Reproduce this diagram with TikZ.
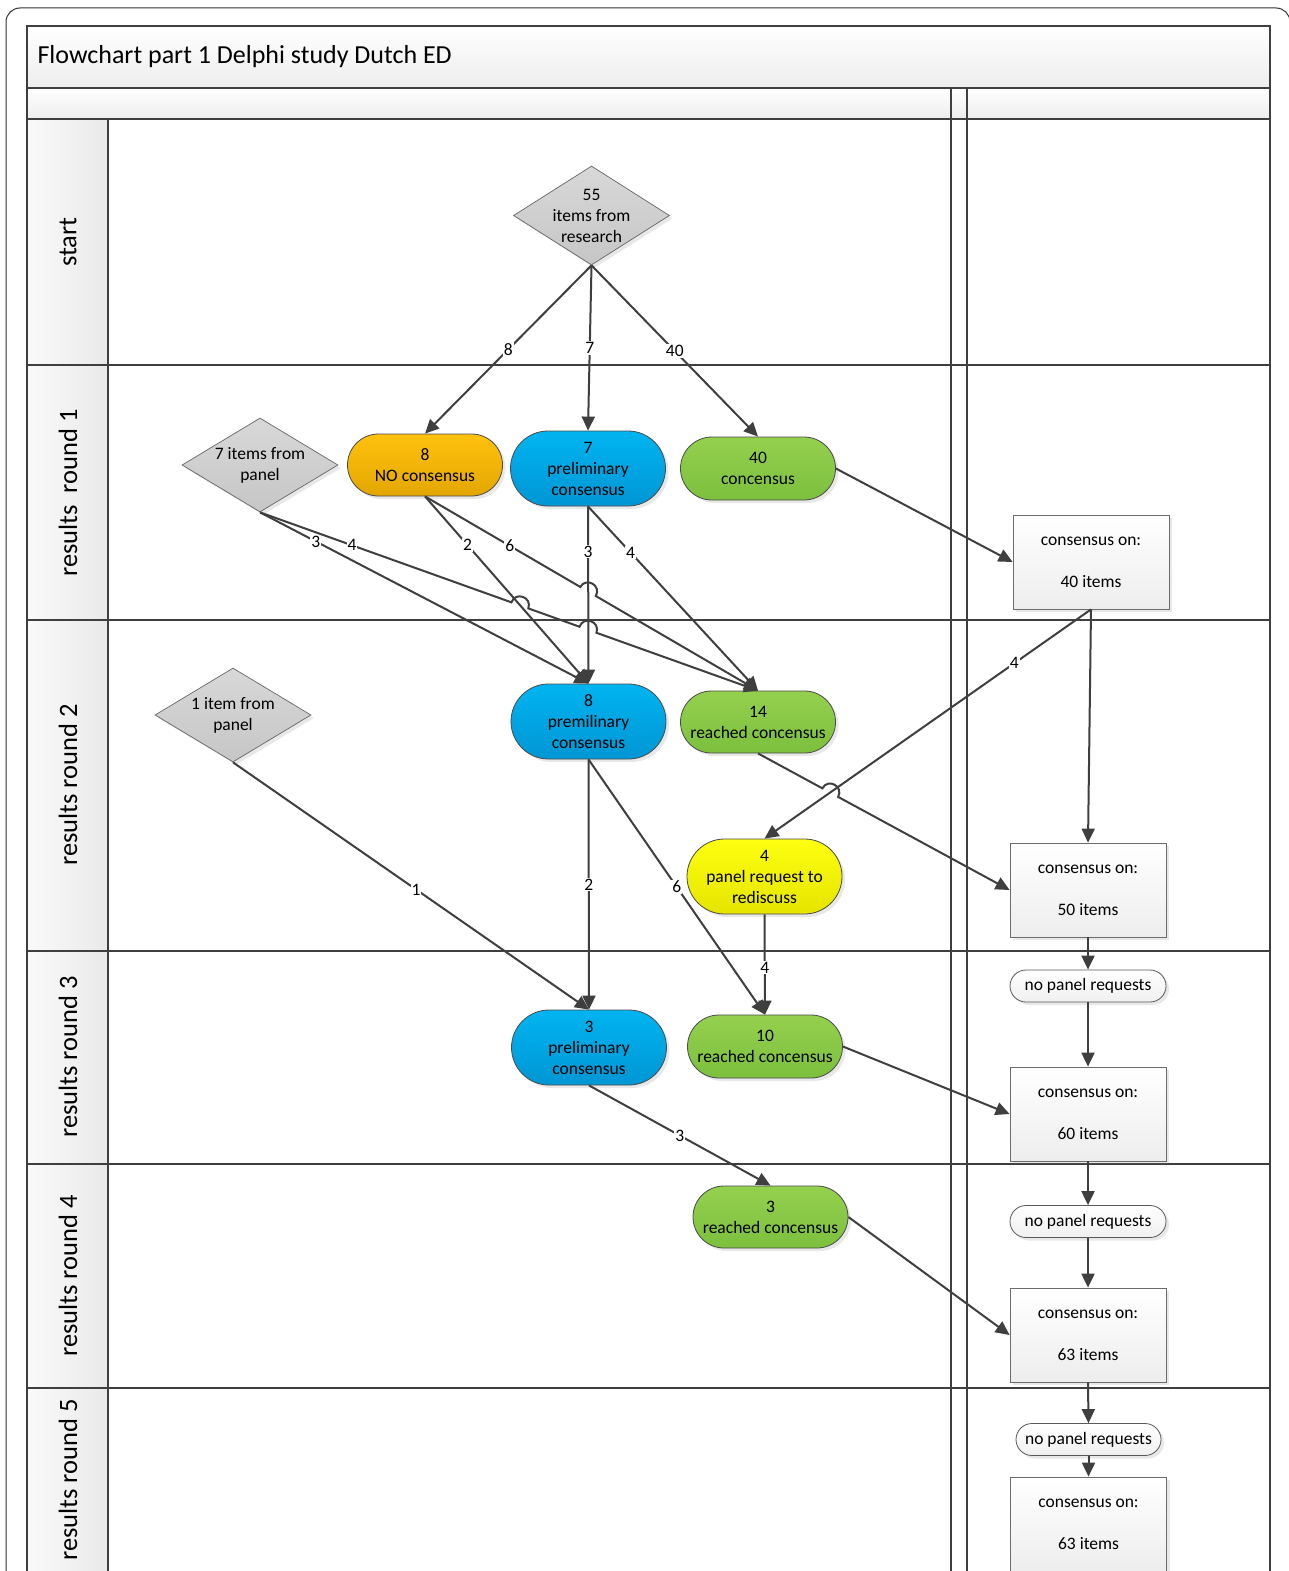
\documentclass[tikz,border=0pt]{standalone}
\usepackage{fontspec}
\setmainfont{Carlito}
\usetikzlibrary{shapes.geometric,arrows.meta,calc,shadows}
\definecolor{linec}{HTML}{3F3F3F}
\definecolor{bordc}{HTML}{4A4A4A}
\definecolor{orgT}{HTML}{FFC20E}
\definecolor{orgB}{HTML}{E3A600}
\definecolor{bluT}{HTML}{00B4F0}
\definecolor{bluB}{HTML}{0096D4}
\definecolor{grnT}{HTML}{94D04E}
\definecolor{grnB}{HTML}{7CC03E}
\definecolor{yelT}{HTML}{FFFF10}
\definecolor{yelB}{HTML}{E4E400}
\definecolor{dmdT}{HTML}{D8D8D8}
\definecolor{dmdB}{HTML}{C6C6C6}
\begin{document}
\begin{tikzpicture}[x=1pt,y=-1pt,
  lane/.style={draw=linec,line width=2pt},
  line/.style={draw=linec,line width=2pt},
  arr/.style={line,-{Triangle[length=14pt,width=13pt]}},
  lab/.style={fill=white,inner sep=1pt,font=\fontsize{17.5}{20}\selectfont,text=black},
  shad/.style={drop shadow={opacity=0.18,shadow xshift=3pt,shadow yshift=-3pt}},
  term/.style={rectangle,rounded corners=#1,minimum height=2*#1,minimum width=155pt,
     draw=bordc,line width=0.8pt,align=center,inner sep=0pt,
     font=\fontsize{17.5}{21}\selectfont,shad},
  orng/.style={top color=orgT,bottom color=orgB},
  blu/.style={top color=bluT,bottom color=bluB},
  grn/.style={top color=grnT,bottom color=grnB},
  yel/.style={top color=yelT,bottom color=yelB},
  dmd/.style={diamond,minimum width=156pt,minimum height=#1,inner sep=0pt,
     draw=gray!80!black,line width=0.7pt,top color=dmdT,bottom color=dmdB,shad},
  dtext/.style={align=center,font=\fontsize{17.5}{21}\selectfont},
  cbox/.style={rectangle,minimum width=156pt,minimum height=94pt,draw=gray!85!black,
     line width=0.8pt,top color=white,bottom color=gray!14,align=center,
     font=\fontsize{17.5}{21}\selectfont,shad},
  npr/.style={rectangle,rounded corners=16pt,minimum height=32pt,minimum width=#1,
     draw=gray!70!black,line width=0.8pt,top color=white,bottom color=gray!12,
     font=\fontsize{17.5}{21}\selectfont,shad},
  lanelab/.style={rotate=90,font=\fontsize{26.5}{30}\selectfont},
  hdr/.style={top color=white,bottom color=gray!14}
]
\useasboundingbox (0,0) rectangle (1289,1571);
\clip (0,0) rectangle (1289,1571);
\fill[white] (0,0) rectangle (1289,1571);
% outer frame
\draw[line width=1pt,draw=black!80,rounded corners=14pt] (6,8) rectangle (1290,1650);
% title and header
\path[hdr] (27,26) rectangle (1270,88);
\path[hdr] (27,88) rectangle (1270,119);
% label cells
\foreach \ya/\yb in {119/365,365/620,620/951,951/1164,1164/1388,1388/1650}
  \path[left color=white!96!gray,right color=gray!17] (27,\ya) rectangle (108,\yb);
% lane lines
\draw[lane] (27,26) rectangle (1270,1650);
\draw[lane] (27,88) -- (1270,88);
\foreach \y in {119,365,620,951,1164,1388} \draw[lane] (27,\y) -- (1270,\y);
\draw[lane] (108,119) -- (108,1650);
\draw[lane] (951,88) -- (951,1650);
\draw[lane] (967,88) -- (967,1650);
% texts of frame
\node[anchor=west,font=\fontsize{26}{30}\selectfont] (title) at (34,57) {Flowchart part 1 Delphi study Dutch ED};
\node[lanelab] (L0) at (68,242) {start};
\node[lanelab] (L1) at (68,493) {results\ \ round 1};
\node[lanelab] (L2) at (68,785) {results round 2};
\node[lanelab] (L3) at (68,1057) {results round 3};
\node[lanelab] (L4) at (68,1276) {results round 4};
\node[lanelab] (L5) at (68,1480) {results round 5};
% diamonds
\node[dmd=99pt] (D55) at (591.5,215.5) {};
\node[dtext] (D55t) at (D55) {55\\items from\\research};
\node[dmd=94pt] (D7) at (260,465) {};
\node[dtext] (D7t) at (D7) {7 items from\\panel};
\node[dmd=94pt] (D1) at (233,715) {};
\node[dtext] (D1t) at (D1) {1 item from\\panel};
% terminators
\node[term=31pt,orng] (N8) at (425,465) {8\\NO consensus};
\node[term=37.5pt,blu] (P7) at (588,468.5) {7\\preliminary\\consensus};
\node[term=31.5pt,grn] (C40) at (758,468.5) {40\\concensus};
\node[term=37.5pt,blu] (P8) at (588.5,721.5) {8\\premilinary\\consensus};
\node[term=31pt,grn] (C14) at (758,722) {14\\reached concensus};
\node[term=37.5pt,yel] (Y4) at (764.5,876.5) {4\\panel request to\\rediscuss};
\node[term=37.5pt,blu] (P3) at (589,1047.5) {3\\preliminary\\consensus};
\node[term=31.5pt,grn] (C10) at (765,1046.5) {10\\reached concensus};
\node[term=31pt,grn] (C3) at (770.5,1217) {3\\reached concensus};
% boxes
\node[cbox] (B40) at (1091,562) {consensus on:\\[21pt]40 items};
\node[cbox] (B50) at (1088,890) {consensus on:\\[21pt]50 items};
\node[npr=156pt] (NP1) at (1088,986) {no panel requests};
\node[cbox] (B60) at (1088,1114) {consensus on:\\[21pt]60 items};
\node[npr=156pt] (NP2) at (1088,1221.5) {no panel requests};
\node[cbox] (B63a) at (1088,1335) {consensus on:\\[21pt]63 items};
\node[npr=145pt] (NP3) at (1088.5,1439.5) {no panel requests};
\node[cbox] (B63b) at (1088.5,1524) {consensus on:\\[21pt]63 items};
% hop coordinates
\coordinate (h1a) at ($(D7.south)!0.5048!(C14.north)$);
\coordinate (h1b) at ($(D7.south)!0.5388!(C14.north)$);
\coordinate (h2a) at ($(D7.south)!0.6416!(C14.north)$);
\coordinate (h2b) at ($(D7.south)!0.6756!(C14.north)$);
\coordinate (h3a) at ($(N8.south)!0.4662!(C14.north)$);
\coordinate (h3b) at ($(N8.south)!0.5128!(C14.north)$);
\coordinate (h4a) at ($(C14.south)!0.2557!(B50.west)$);
\coordinate (h4b) at ($(C14.south)!0.3185!(B50.west)$);
% connectors
\draw[arr] (D55.south) -- node[lab]{8} (N8.north);
\draw[arr] (D55.south) -- node[lab]{7} (P7.north);
\draw[arr] (D55.south) -- node[lab]{40} (C40.north);
\draw[arr] (C40.east) -- (B40.west);
\draw[arr] (D7.south) -- node[lab,pos=0.17]{3} (P8.north);
\draw[arr] (D7.south) -- node[lab,pos=0.366]{4} (h1a)
   .. controls ($(h1a)!12pt!90:(h1b)$) and ($(h1b)!12pt!-90:(h1a)$) .. (h1b)
   -- (h2a)
   .. controls ($(h2a)!12pt!90:(h2b)$) and ($(h2b)!12pt!-90:(h2a)$) .. (h2b)
   -- (C14.north);
\draw[arr] (N8.south) -- node[lab,pos=0.26]{2} (P8.north);
\draw[arr] (N8.south) -- node[lab,pos=0.547]{6} (h3a)
   .. controls ($(h3a)!12pt!90:(h3b)$) and ($(h3b)!12pt!-90:(h3a)$) .. (h3b)
   -- (C14.north);
\draw[arr] (P7.south) -- node[lab,pos=0.255]{3} (P8.north);
\draw[arr] (P7.south) -- node[lab,pos=0.25]{4} (C14.north);
\draw[arr] (B40.south) -- node[lab,pos=0.235]{4} (Y4.north);
\draw[arr] (B40.south) -- (B50.north);
\draw[arr] (C14.south) -- (h4a)
   .. controls ($(h4a)!12pt!90:(h4b)$) and ($(h4b)!12pt!-90:(h4a)$) .. (h4b)
   -- (B50.west);
\draw[arr] (D1.south) -- node[lab,pos=0.514]{1} (P3.north);
\draw[arr] (P8.south) -- node[lab]{2} (P3.north);
\draw[arr] (P8.south) -- node[lab]{6} (C10.north);
\draw[arr] (Y4.south) -- node[lab,pos=0.53]{4} (C10.north);
\draw[arr] (B50.south) -- (NP1.north);
\draw[arr] (NP1.south) -- (B60.north);
\draw[arr] (C10.east) -- (B60.west);
\draw[arr] (P3.south) -- node[lab]{3} (C3.north);
\draw[arr] (B60.south) -- (NP2.north);
\draw[arr] (NP2.south) -- (B63a.north);
\draw[arr] (C3.east) -- (B63a.west);
\draw[arr] (B63a.south) -- (NP3.north);
\draw[arr] (NP3.south) -- (B63b.north);
\end{tikzpicture}
\end{document}
